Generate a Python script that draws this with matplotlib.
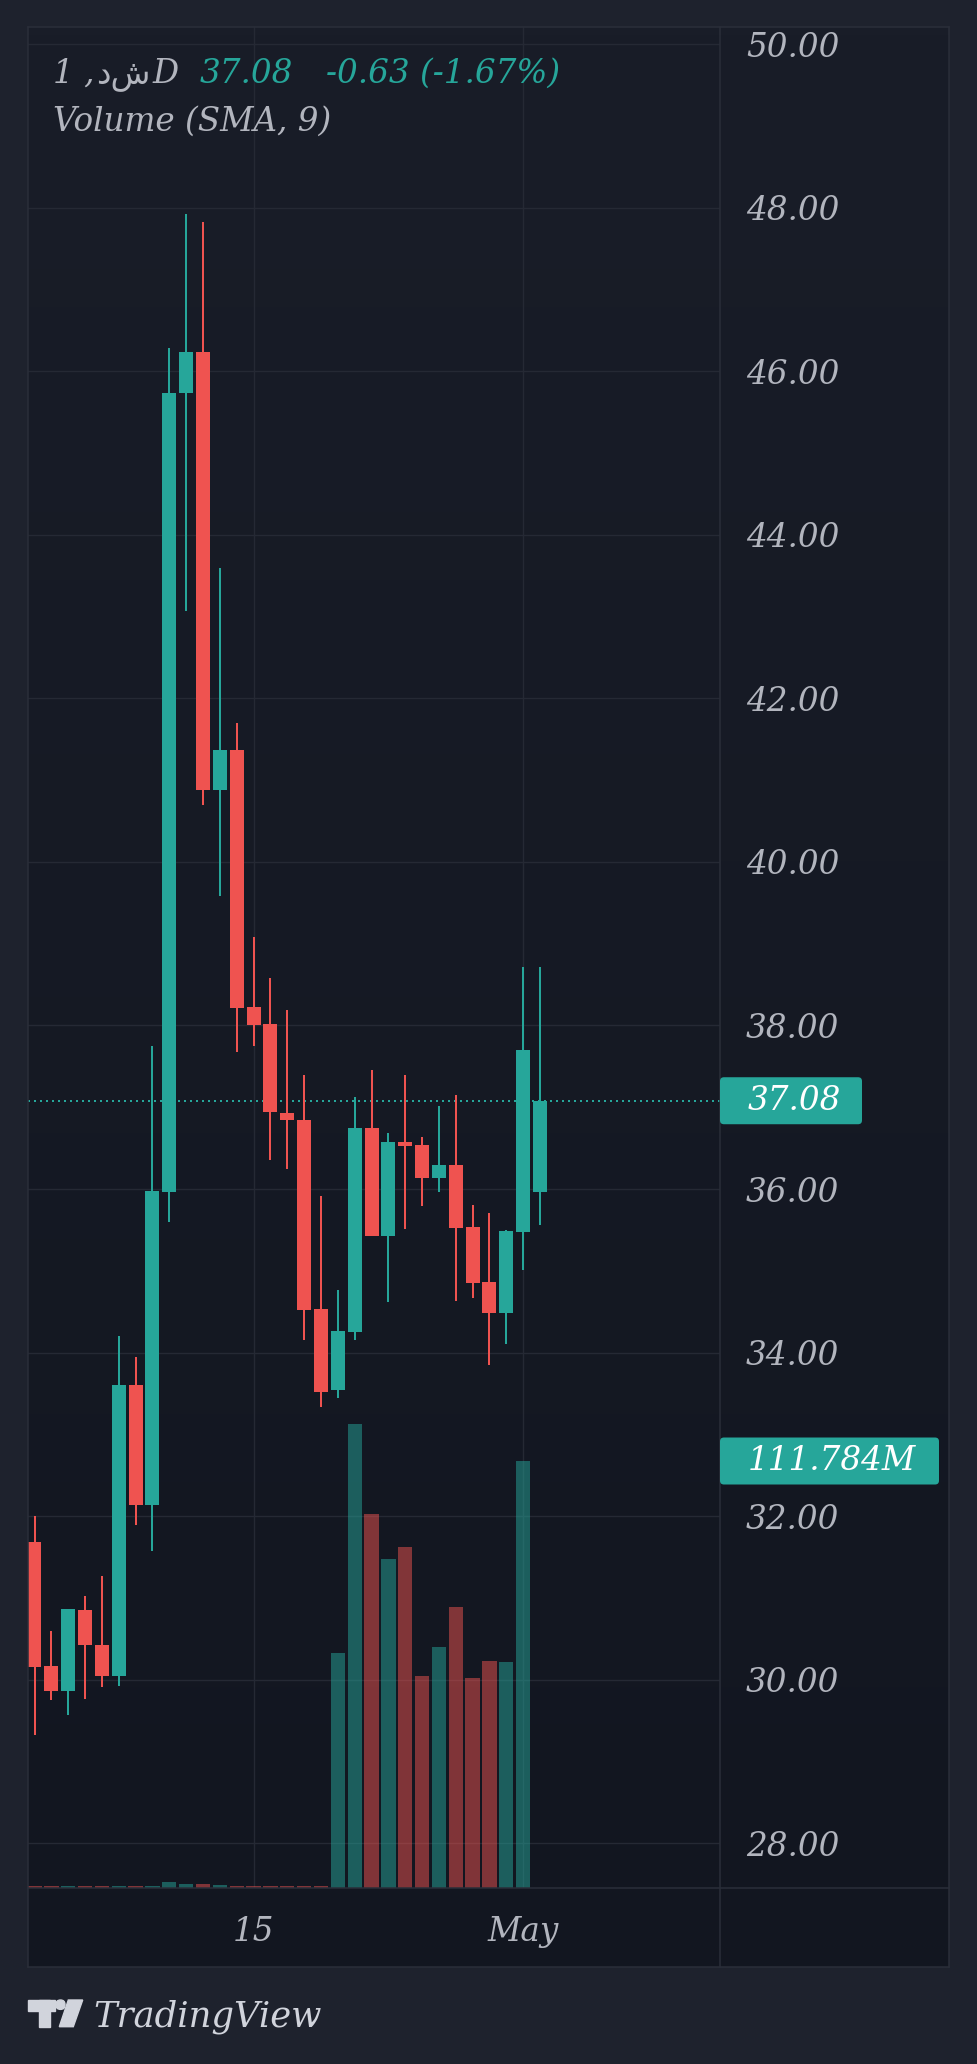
import numpy as np
import matplotlib
matplotlib.use("Agg")
import matplotlib.pyplot as plt
from matplotlib.patches import Rectangle, FancyBboxPatch, Polygon
from matplotlib.lines import Line2D

W, H = 977, 2064

# daily candles, 2 Apr .. 2 May
opens = [31.68, 30.17, 29.86, 30.85, 30.43, 30.04, 33.60, 32.14, 35.96, 45.73,
         46.23, 40.88, 41.37, 38.23, 38.02, 36.93, 36.85, 34.53, 33.54, 34.25,
         36.75, 35.43, 36.57, 36.54, 36.13, 36.30, 35.53, 34.86, 34.49, 35.48, 35.97]
highs = [32.00, 30.60, 30.87, 31.02, 31.27, 34.20, 33.95, 37.75, 46.28, 47.92,
         47.83, 43.60, 41.70, 39.08, 38.58, 38.19, 37.40, 35.91, 34.77, 37.12,
         37.46, 36.69, 37.39, 36.64, 37.02, 37.15, 35.80, 35.71, 35.50, 38.72, 38.72]
lows = [29.33, 29.75, 29.57, 29.77, 29.91, 29.92, 31.89, 31.57, 35.60, 43.07,
        40.70, 39.58, 37.67, 37.75, 36.35, 36.25, 34.16, 33.33, 33.44, 34.16,
        35.43, 34.62, 35.51, 35.79, 35.97, 34.63, 34.67, 33.85, 34.11, 35.01, 35.56]
closes = [30.16, 29.86, 30.86, 30.42, 30.05, 33.60, 32.14, 35.98, 45.74, 46.23,
          40.88, 41.37, 38.22, 38.00, 36.94, 36.84, 34.52, 33.52, 34.26, 36.75,
          35.43, 36.57, 36.53, 36.13, 36.30, 35.52, 34.85, 34.49, 35.49, 37.70, 37.08]
volumes = [0.45, 0.45, 0.45, 0.45, 0.45, 0.45, 0.45, 0.45, 1.5, 1.0,
           1.0, 0.7, 0.45, 0.45, 0.45, 0.45, 0.45, 0.45, 61.5, 121.6,
           97.9, 86.1, 89.3, 55.6, 63.2, 73.5, 55.1, 59.3, 59.1, 111.784, 0.0]

date_ticks = [13, 29]
date_labels = ["15", "May"]
price_ticks = np.arange(28, 51, 2)

symbol_parts = ["1 ,", "دش", "D"]
last_price = 37.08
change_text = "-0.63 (-1.67%)"
volume_title = "Volume (SMA, 9)"
last_volume = 111.784

UP = "#26a69a"
DOWN = "#ef5350"
TEXT = "#b2b5be"
GRID = "#252934"
BORDER = "#2a2e39"
OUTER = "#1e222d"

plt.rcParams["font.family"] = ["DejaVu Serif", "DejaVu Sans"]
plt.rcParams["font.style"] = "italic"
FS = 23.5


def fx(x):
    return x / W


def fy(y):
    return 1 - y / H


fig = plt.figure(figsize=(W / 100, H / 100), dpi=100, facecolor=OUTER)

# gradient panel background
bg = fig.add_axes([fx(28), fy(1967), 921 / W, 1940 / H], zorder=-1)
grad = np.linspace(0, 1, 256)[:, None]
top_c = np.array([0x19, 0x1d, 0x28]) / 255
bot_c = np.array([0x12, 0x16, 0x20]) / 255
img = top_c[None, None, :] * (1 - grad[:, :, None]) + bot_c[None, None, :] * grad[:, :, None]
bg.imshow(img, aspect="auto", extent=[0, 1, 0, 1])
bg.set_axis_off()

ax = fig.add_axes([fx(28), fy(1888), (720 - 28) / W, (1888 - 27) / H])
ax.set_facecolor("none")
ax.set_xlim(-0.386, 40.68)
ax.set_ylim(27.453, 50.21)

x = np.arange(len(opens))
o = np.array(opens)
c = np.array(closes)
up = c >= o
cols = [UP if u else DOWN for u in up]

ax.vlines(x, lows, highs, colors=cols, linewidth=1.44, zorder=3)
ax.bar(x, np.maximum(np.abs(c - o), 0.02), bottom=np.minimum(o, c), width=0.83,
       color=cols, linewidth=0, zorder=4)

ax.axhline(last_price, color=UP, linewidth=1.44, linestyle=(0, (1, 2)), zorder=2)

# volume pane
ax2 = ax.twinx()
ax2.set_ylim(0, 487.2)
ax2.set_facecolor("none")
ax2.yaxis.set_visible(False)
for s in ax2.spines.values():
    s.set_visible(False)
ax2.bar(x, volumes, width=0.85, color=cols, alpha=0.5, linewidth=0, zorder=1)

ax.set_yticks(price_ticks)
ax.set_yticklabels([f"{p:.2f}" for p in price_ticks])
ax.yaxis.tick_right()
ax.tick_params(axis="y", length=0, pad=18.7, labelsize=FS, labelcolor=TEXT,
               left=False, labelleft=False, right=False, labelright=True)
ax.set_xticks(date_ticks)
ax.set_xticklabels(date_labels)
ax.tick_params(axis="x", length=0, pad=20.5, labelsize=FS, labelcolor=TEXT)
ax.grid(True, color=GRID, linewidth=1.0)
ax.set_axisbelow(True)
for s in ax.spines.values():
    s.set_visible(False)

# frame lines
for xs, ys in [([28, 949], [27, 27]), ([28, 949], [1967, 1967]),
               ([28, 28], [27, 1967]), ([949, 949], [27, 1967]),
               ([720, 720], [27, 1967]), ([28, 949], [1888, 1888])]:
    fig.add_artist(Line2D([fx(v) for v in xs], [fy(v) for v in ys],
                          color=BORDER, linewidth=1.1))


# last value labels
def value_label(axis, value, text, right):
    yd = axis.transData.transform((0, value))[1] / H
    box = FancyBboxPatch((fx(720), yd - 23.5 / H), (right - 720) / W, 47 / H,
                         boxstyle="round,pad=0,rounding_size=0.004",
                         mutation_aspect=W / H, transform=fig.transFigure,
                         facecolor=UP, edgecolor="none", zorder=5)
    fig.add_artist(box)
    fig.text(fx(748), yd, text, color="white", fontsize=FS, va="center",
             ha="left", zorder=6)


value_label(ax, last_price, f"{last_price:.2f}", 862)
value_label(ax2, last_volume, f"{last_volume:.3f}M", 939)

# header
renderer = fig.canvas.get_renderer()
hx = fx(53)
for part in symbol_parts:
    if part == "دش":
        t = fig.text(hx, fy(83), part, color=TEXT, fontsize=FS, va="baseline",
                     family="DejaVu Sans", style="normal")
    else:
        t = fig.text(hx, fy(83), part, color=TEXT, fontsize=FS, va="baseline")
    hx = t.get_window_extent(renderer).x1 / W + 0.002
fig.text(fx(200), fy(83), f"{last_price:.2f}", color=UP, fontsize=FS, va="baseline")
fig.text(fx(326), fy(83), change_text, color=UP, fontsize=FS, va="baseline")
fig.text(fx(53), fy(131), volume_title, color=TEXT, fontsize=FS, va="baseline")

# logo
LOGO = "#d1d4dc"
fig.add_artist(Rectangle((fx(28), fy(2010.5)), 27 / W, 10.5 / H,
                         transform=fig.transFigure, color=LOGO))
fig.add_artist(Rectangle((fx(39.3), fy(2026.7)), 10.7 / W, 26.7 / H,
                         transform=fig.transFigure, color=LOGO))
fig.add_artist(Polygon([(fx(68.3), fy(2000)), (fx(82.7), fy(2000)),
                        (fx(73.3), fy(2026.7)), (fx(59.3), fy(2026.7))],
                       closed=True, transform=fig.transFigure, color=LOGO))
fig.add_artist(FancyBboxPatch((fx(56), fy(2009.4)), 9 / W, 9.4 / H,
                              boxstyle="round,pad=0,rounding_size=0.0046",
                              mutation_aspect=W / H, transform=fig.transFigure,
                              color=LOGO))
fig.text(fx(93), fy(2026.7), "TradingView", color=LOGO, fontsize=25.5,
         va="baseline")

fig.savefig("out.png", dpi=100, facecolor=OUTER)
